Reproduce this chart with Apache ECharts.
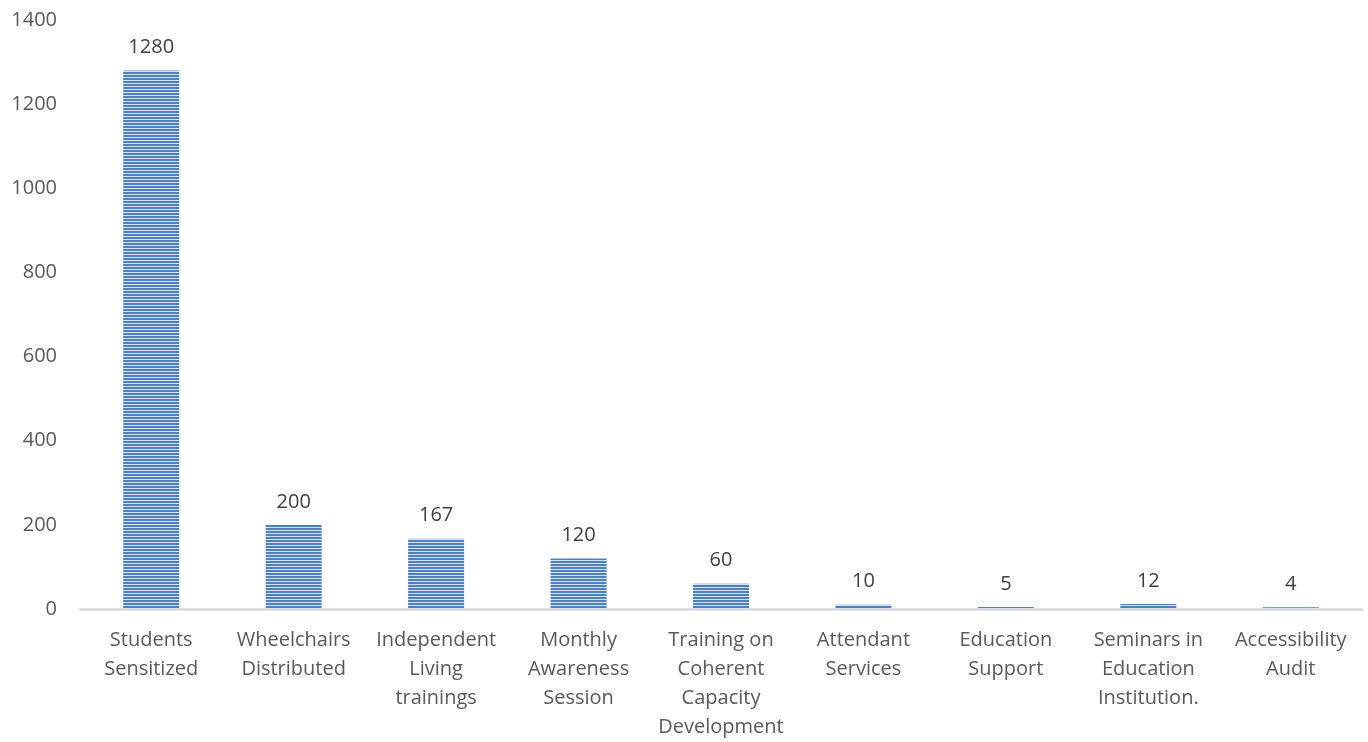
<!DOCTYPE html>
<html><head><meta charset="utf-8">
<script src="https://cdn.jsdelivr.net/npm/echarts@6/dist/echarts.min.js"></script>
<style>html,body{margin:0;padding:0;background:#fff}#c{width:1368px;height:742px}</style>
</head><body><div id="c"></div>
<script>
const categories = ["Students\nSensitized","Wheelchairs\nDistributed","Independent\nLiving\ntrainings","Monthly\nAwareness\nSession","Training on\nCoherent\nCapacity\nDevelopment","Attendant\nServices","Education\nSupport","Seminars in\nEducation\nInstitution.","Accessibility\nAudit"];
const values = [1280,200,167,120,60,10,5,12,4];

const pc = document.createElement('canvas');
pc.width = 4; pc.height = 3;
const g = pc.getContext('2d');
g.fillStyle = '#4f81bd'; g.fillRect(0,0,4,3);
g.fillStyle = '#d3e0f1'; g.fillRect(0,2,4,1);

const font = '"Open Sans", sans-serif';
const chart = echarts.init(document.getElementById('c'));
chart.setOption({
  animation:false,
  grid:{left:80,right:6,top:20,bottom:127},
  xAxis:{type:'category',data:categories,
    axisLine:{lineStyle:{color:'#d9d9d9',width:2.5}},axisTick:{show:false},
    axisLabel:{interval:0,color:'#595959',fontSize:20,fontFamily:font,lineHeight:29,margin:17}},
  yAxis:{type:'value',min:0,max:1400,interval:200,
    axisLine:{show:false},axisTick:{show:false},splitLine:{show:false},
    axisLabel:{color:'#595959',fontSize:20,fontFamily:font,margin:23,formatter:v=>String(v)}},
  series:[{type:'bar',data:values,barWidth:56,
    itemStyle:{color:{image:pc,repeat:'repeat'}},
    label:{show:true,position:'top',distance:13,color:'#404040',fontSize:20,fontFamily:font}}]
});
</script></body></html>
